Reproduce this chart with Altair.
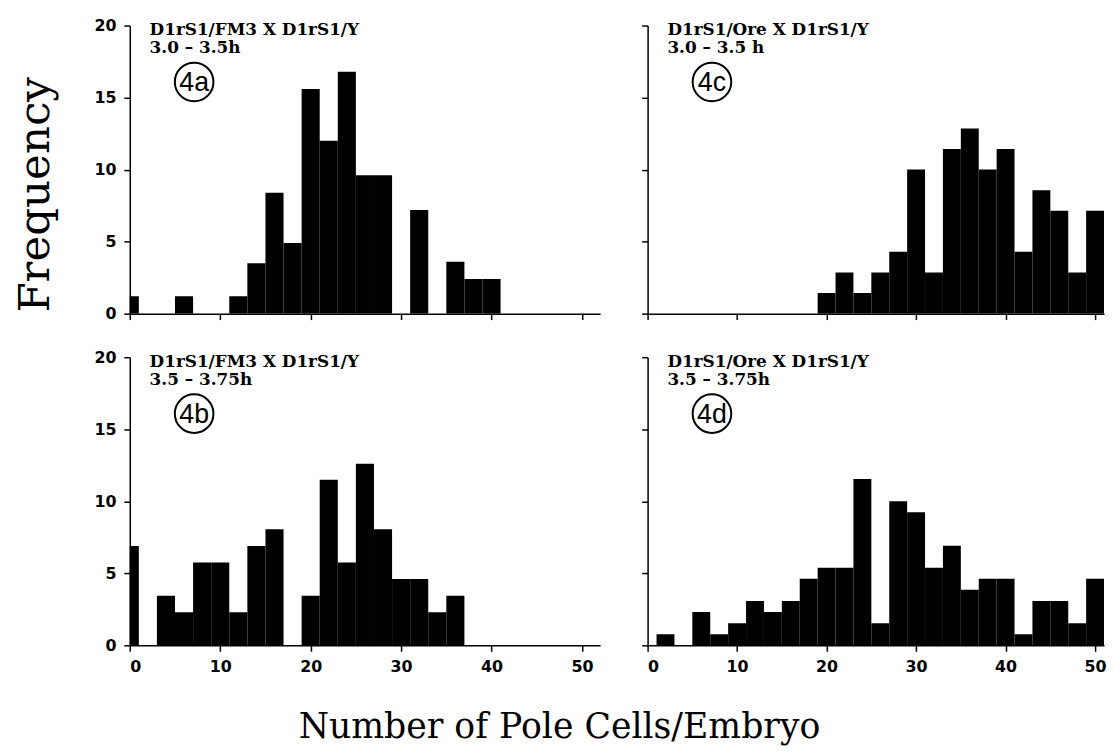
import altair as alt
import pandas as pd

# bin centres (each bin spans centre-1 .. centre+1)
centers = list(range(0, 52, 2))

freq_4a = [1.2, 0, 0, 1.2, 0, 0, 1.2, 3.5, 8.4, 4.9, 15.6, 12.0, 16.8, 9.6, 9.6, 0,
           7.2, 0, 3.6, 2.4, 2.4, 0, 0, 0, 0, 0]
freq_4b = [6.9, 0, 3.45, 2.3, 5.75, 5.75, 2.3, 6.9, 8.05, 0, 3.45, 11.5, 5.75, 12.6, 8.05,
           4.6, 4.6, 2.3, 3.45, 0, 0, 0, 0, 0, 0, 0]
freq_4c = [0, 0, 0, 0, 0, 0, 0, 0, 0, 0, 1.43, 2.86, 1.43, 2.86, 4.29, 10.0, 2.86, 11.43,
           12.86, 10.0, 11.43, 4.29, 8.57, 7.14, 2.86, 7.14]
freq_4d = [0, 0.77, 0, 2.31, 0.77, 1.54, 3.08, 2.31, 3.08, 4.62, 5.38, 5.38, 11.54, 1.54,
           10.0, 9.23, 5.38, 6.92, 3.85, 4.62, 4.62, 0.77, 3.08, 3.08, 1.54, 4.62]

headers = {
    "4a": "D1rS1/FM3 X D1rS1/Y\n3.0 – 3.5h",
    "4b": "D1rS1/FM3 X D1rS1/Y\n3.5 – 3.75h",
    "4c": "D1rS1/Ore X D1rS1/Y\n3.0 – 3.5 h",
    "4d": "D1rS1/Ore X D1rS1/Y\n3.5 – 3.75h",
}
x_ticks = [0, 10, 20, 30, 40, 50]
y_ticks = [0, 5, 10, 15, 20]
y_title = "Frequency"
x_title = "Number of Pole Cells/Embryo"

PLOT_H = 291


def panel(vals, tag, xmax, width, show_x_labels, show_y_labels, extras=()):
    df = pd.DataFrame({"center": centers, "freq": vals})
    base = (
        alt.Chart(df)
        .transform_filter("datum.freq > 0")
        .transform_calculate(lo="datum.center - 1", hi="datum.center + 1", base="0")
    )
    bars = base.mark_bar(color="black", clip=True, strokeWidth=0).encode(
        x=alt.X(
            "lo:Q",
            scale=alt.Scale(domain=[0, xmax], nice=False, zero=False),
            axis=alt.Axis(values=x_ticks, labels=show_x_labels, title=None,
                          labelPadding=7),
        ),
        x2="hi:Q",
        y=alt.Y(
            "freq:Q",
            scale=alt.Scale(domain=[0, 20], nice=False),
            axis=alt.Axis(values=y_ticks, labels=show_y_labels, title=None,
                          labelPadding=8),
        ),
        y2="base:Q",
    )
    head = alt.Chart(pd.DataFrame({"h": [headers[tag]]})).mark_text(
        align="left", baseline="alphabetic", font="DejaVu Serif", fontWeight="bold",
        fontSize=17, lineBreak="\n", lineHeight=18, color="black",
    ).encode(x=alt.value(20), y=alt.value(10), text="h:N")
    circ = alt.Chart(pd.DataFrame({"t": [tag]})).mark_point(
        shape="circle", size=1520, filled=False, color="black", strokeWidth=2, opacity=1,
    ).encode(x=alt.value(65), y=alt.value(57))
    tag_text = alt.Chart(pd.DataFrame({"t": [tag]})).mark_text(
        font="Liberation Sans", fontSize=27, baseline="middle", align="center", color="black",
    ).encode(x=alt.value(65), y=alt.value(58), text="t:N")
    return alt.layer(bars, head, circ, tag_text, *extras).properties(width=width, height=PLOT_H)


freq_label = alt.Chart(pd.DataFrame({"t": [y_title]})).mark_text(
    font="DejaVu Serif", fontSize=44, angle=270, align="center", baseline="middle", color="black",
).encode(x=alt.value(-95), y=alt.value(171), text="t:N")

xlab = alt.Chart(pd.DataFrame({"t": [x_title]})).mark_text(
    font="DejaVu Serif", fontSize=35, align="center", baseline="alphabetic", color="black",
).encode(x=alt.value(434), y=alt.value(385), text="t:N")

LEFT_W = 475
RIGHT_W = 461

p4a = panel(freq_4a, "4a", 52, LEFT_W, False, True, extras=(freq_label,))
p4c = panel(freq_4c, "4c", 51, RIGHT_W, False, False)
p4b = panel(freq_4b, "4b", 52, LEFT_W, True, True, extras=(xlab,))
p4d = panel(freq_4d, "4d", 51, RIGHT_W, True, False)

chart = (
    alt.concat(p4a, p4c, p4b, p4d, columns=2, spacing={"row": 44, "column": 48}, bounds="flush")
    .properties(padding={"left": 6, "top": 6, "right": 0, "bottom": 0}, background="white")
    .configure_view(stroke=None)
    .configure_axis(
        domainColor="black", tickColor="black", labelColor="black",
        labelFont="DejaVu Sans", labelFontWeight="bold", labelFontSize=16,
        grid=False, tickSize=6, domainWidth=1.5, tickWidth=1.5,
    )
)

chart.save("out.html", embed_options={"renderer": "svg", "actions": False})
